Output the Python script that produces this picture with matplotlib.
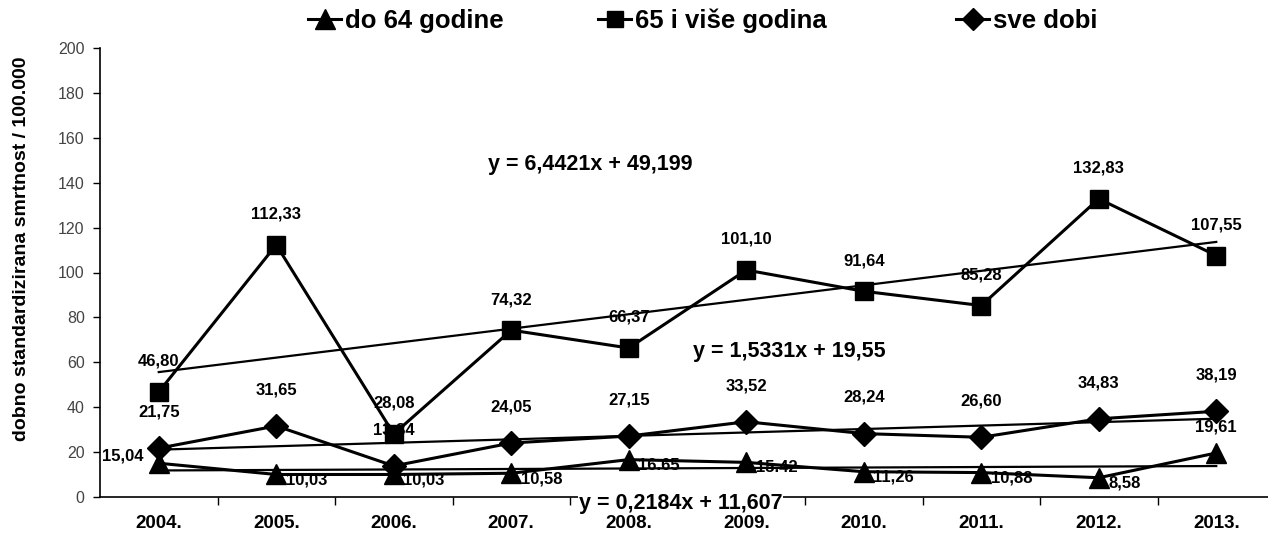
import numpy as np
import matplotlib
matplotlib.use("Agg")
import matplotlib.pyplot as plt
from matplotlib.lines import Line2D

plt.rcParams['font.family'] = ['Liberation Sans', 'DejaVu Sans']

years = ["2004.", "2005.", "2006.", "2007.", "2008.", "2009.", "2010.", "2011.", "2012.", "2013."]
do64 = [15.04, 10.03, 10.03, 10.58, 16.65, 15.42, 11.26, 10.88, 8.58, 19.61]
do64_labels = ["15,04", "10,03", "10,03", "10,58", "16.65", "15.42", "11,26", "10,88", "8,58", "19,61"]
od65 = [46.80, 112.33, 28.08, 74.32, 66.37, 101.10, 91.64, 85.28, 132.83, 107.55]
od65_labels = ["46,80", "112,33", "28,08", "74,32", "66,37", "101,10", "91,64", "85,28", "132,83", "107,55"]
sve = [21.75, 31.65, 13.84, 24.05, 27.15, 33.52, 28.24, 26.60, 34.83, 38.19]
sve_labels = ["21,75", "31,65", "13,84", "24,05", "27,15", "33,52", "28,24", "26,60", "34,83", "38,19"]
series_names = ["do 64 godine", "65 i više godina", "sve dobi"]
equations = ["y = 0,2184x + 11,607", "y = 6,4421x + 49,199", "y = 1,5331x + 19,55"]

W, H = 1268, 533
fig = plt.figure(figsize=(W / 100, H / 100), dpi=100)
ax = fig.add_axes([100 / W, (H - 497) / H, 1175 / W, 449 / H])

x = np.arange(len(years))

# trend lines (linear regression of each series)
for vals in (do64, od65, sve):
    k, b = np.polyfit(x, vals, 1)
    ax.plot(x, k * x + b, color='black', lw=1.6, zorder=3)

mk = dict(color='black', lw=2.2, zorder=4)
ax.plot(x, do64, marker='^', ms=15, **mk)
ax.plot(x, od65, marker='s', ms=13, **mk)
ax.plot(x, sve, marker='D', ms=12, **mk)

lblkw = dict(fontsize=12, fontweight='bold', color='black', zorder=3.5,
             textcoords='offset points')
for i in range(len(x)):
    ax.annotate(od65_labels[i], (x[i], od65[i]), xytext=(0, 22), ha='center', va='center', **lblkw)
    ax.annotate(sve_labels[i], (x[i], sve[i]), xytext=(0, 26), ha='center', va='center', **lblkw)
    if i == 0:
        ax.annotate(do64_labels[i], (x[i], do64[i]), xytext=(-11, 5), ha='right', va='center', **lblkw)
    elif i == len(x) - 1:
        ax.annotate(do64_labels[i], (x[i], do64[i]), xytext=(0, 19), ha='center', va='center', **lblkw)
    else:
        ax.annotate(do64_labels[i], (x[i], do64[i]), xytext=(7, -4), ha='left', va='center', **lblkw)

eqkw = dict(fontsize=15.5, fontweight='bold', color='black', ha='center', va='center', zorder=6)
ax.text(4.44, -2.8, equations[0], clip_on=False,
        bbox=dict(facecolor='white', edgecolor='none', pad=0.5), **eqkw)
ax.text(3.67, 148, equations[1], **eqkw)
ax.text(5.37, 64.6, equations[2], **eqkw)

ax.set_xlim(-0.5, len(x) - 0.5)
ax.set_ylim(0, 200)
ax.set_yticks(np.arange(0, 201, 20))
ax.tick_params(axis='y', direction='out', length=5, width=1, labelsize=11.5, labelcolor='#444444', pad=6)
ax.set_xticks(x)
ax.set_xticklabels(years, fontsize=13.5, fontweight='bold')
ax.tick_params(axis='x', which='major', length=0, pad=13)
ax.set_xticks(x[:-1] + 0.5, minor=True)
ax.tick_params(axis='x', which='minor', direction='out', length=6, width=1)
for s in ('top', 'right'):
    ax.spines[s].set_visible(False)
for s in ('left', 'bottom'):
    ax.spines[s].set_linewidth(1.2)
ax.set_ylabel("dobno standardizirana smrtnost / 100.000", fontsize=14, fontweight='bold')
ax.yaxis.set_label_coords(-70 / 1175, 0.552)

# legend: three separate entries
markers = ['^', 's', 'D']
sizes = [14, 12, 11]
xpos = [308, 598, 956]
for name, m, s, xp in zip(series_names, markers, sizes, xpos):
    h = Line2D([0], [0], color='black', lw=2.2, marker=m, ms=s)
    fig.legend(handles=[h], labels=[name], loc='center left', bbox_to_anchor=(xp / W, 1 - 21 / H),
               frameon=False, handlelength=1.3, handletextpad=0.15, borderpad=0, borderaxespad=0,
               prop=dict(size=18.5, weight='bold'))

fig.savefig('out.png', dpi=100)
